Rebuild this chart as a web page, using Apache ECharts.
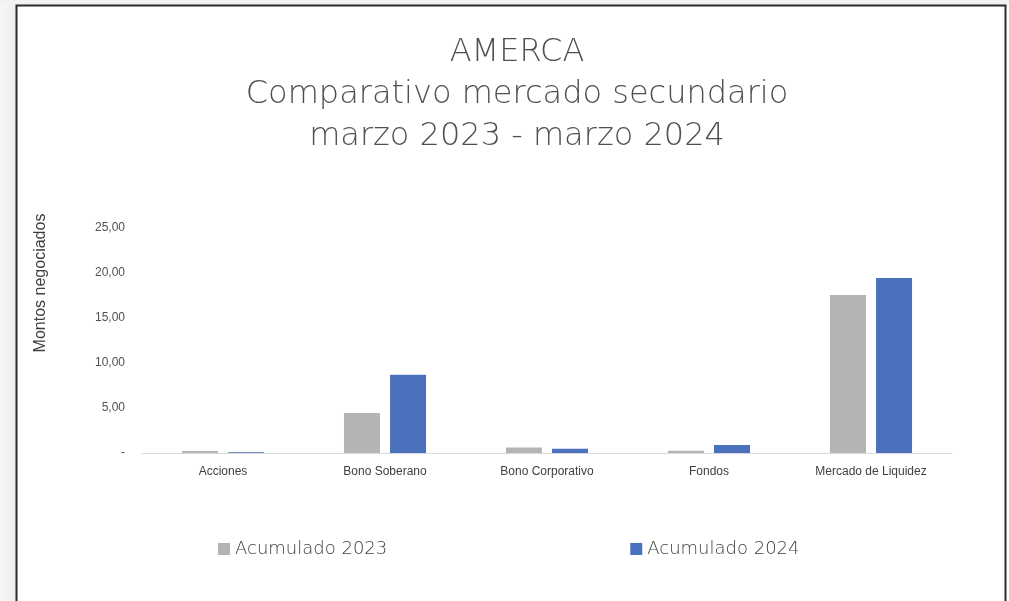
<!DOCTYPE html>
<html><head><meta charset="utf-8">
<script src="https://cdn.jsdelivr.net/npm/echarts@6/dist/echarts.min.js"></script>
<style>html,body{margin:0;padding:0;background:#fff}#c{width:1009px;height:601px}</style>
</head><body><div id="c"></div>
<script>
const categories = ['Acciones','Bono Soberano','Bono Corporativo','Fondos','Mercado de Liquidez'];
const acumulado2023 = [0.22, 4.45, 0.6, 0.25, 17.55];
const acumulado2024 = [0.08, 8.7, 0.48, 0.9, 19.45];
const seriesNames = ['Acumulado 2023','Acumulado 2024'];
const titleLines = ['AMERCA','Comparativo mercado secundario','marzo 2023 - marzo 2024'];
const yAxisName = 'Montos negociados';

const chart = echarts.init(document.getElementById('c'));
const titleFont = '"DejaVu Sans", sans-serif';
chart.setOption({
  animation:false,
  backgroundColor:'#fff',
  graphic:[
    {type:'rect', shape:{x:0,y:0,width:1009,height:601}, style:{fill:{type:'linear',x:0,y:0,x2:1,y2:0,colorStops:[{offset:0,color:'#f7f7f7'},{offset:0.015,color:'#efefef'},{offset:0.016,color:'#fff'},{offset:1,color:'#fff'}]}}, z:-10},
    {type:'rect', shape:{x:0,y:0,width:1009,height:5}, style:{fill:'#f2f2f2'}, z:-9},
    {type:'rect', shape:{x:16.5,y:5.5,width:989,height:620}, style:{fill:'none',stroke:'#2b2b2b',lineWidth:2}, z:-8},
    {type:'text', x:41, y:283, rotation:Math.PI/2, style:{text:yAxisName, fontFamily:'"Liberation Sans", Arial, sans-serif', fontSize:16, fill:'#404040', align:'center', verticalAlign:'middle'}}
  ],
  title:{
    text: titleLines.join('\n'),
    left:512, textAlign:'center', top:27,
    textStyle:{fontFamily:titleFont,fontSize:32,fontWeight:200,color:'#505050',lineHeight:42}
  },
  legend:{
    data:seriesNames, bottom:38, left:213, itemGap:243,
    itemWidth:12, itemHeight:12, icon:'rect',
    textStyle:{fontFamily:titleFont,fontSize:18,fontWeight:200,color:'#404040'}
  },
  grid:{left:142, right:57, top:228, bottom:148, containLabel:false},
  xAxis:{
    type:'category', data:categories,
    axisLine:{lineStyle:{color:'#d9d9d9',width:1}},
    axisTick:{show:false},
    axisLabel:{fontFamily:'"Liberation Sans", Arial, sans-serif',fontSize:12,color:'#404040',margin:13}
  },
  yAxis:{
    type:'value', min:0, max:25, interval:5,
    splitLine:{show:false}, axisLine:{show:false}, axisTick:{show:false},
    axisLabel:{fontFamily:'"Liberation Sans", Arial, sans-serif',fontSize:12,color:'#505050',margin:17,
      formatter:v=> v===0 ? '-' : v.toFixed(2).replace('.',',')}
  },
  series:[
    {name:seriesNames[0], type:'bar', data:acumulado2023, barWidth:36, barGap:'28%', itemStyle:{color:'#b4b4b4'}},
    {name:seriesNames[1], type:'bar', data:acumulado2024, barWidth:36, itemStyle:{color:'#4a70be'}}
  ]
});
</script></body></html>
